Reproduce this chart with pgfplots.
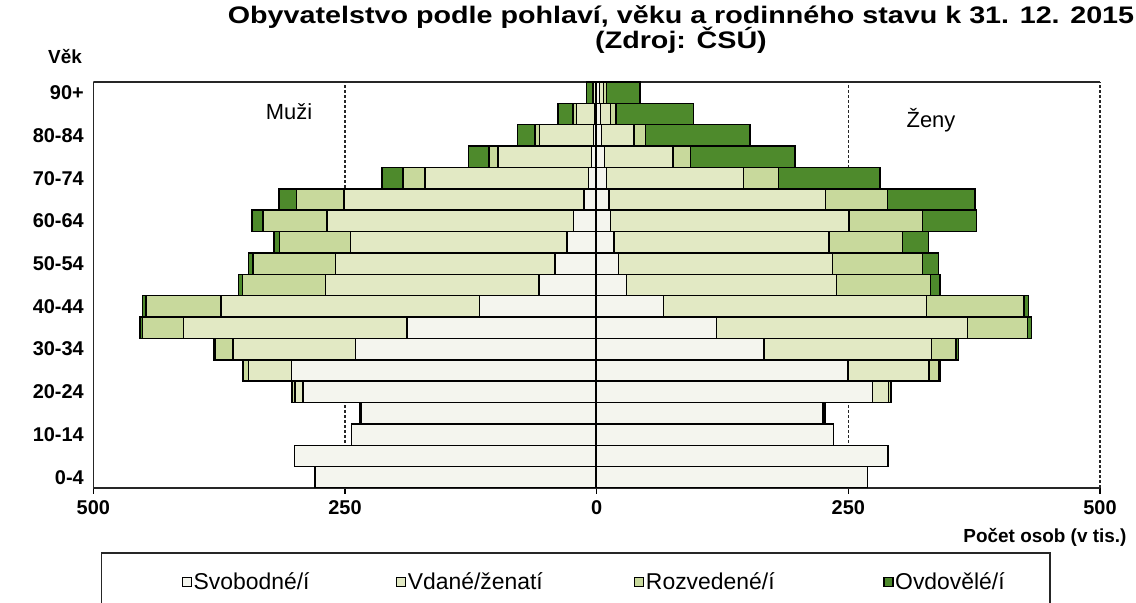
\documentclass[border=0pt]{standalone}
\usepackage{pgfplots}
\pgfplotsset{compat=1.18}
\usepackage{pgfplotstable}
\usepackage{fontspec}
\setmainfont{Liberation Sans}
\newfontfamily\titlefont{Liberation Sans}[FakeStretch=1.2]
\definecolor{csvob}{HTML}{F4F5EE}
\definecolor{cvdan}{HTML}{E2E9C4}
\definecolor{crozv}{HTML}{C8D99C}
\definecolor{covd}{HTML}{4E8A2C}

% y: 0 = 0-4, ..., 18 = 90+
\pgfplotstableread{
y svob vdani rozv ovd
0 -279.8 0 0 0
1 -300.3 0 0 0
2 -243.4 0 0 0
3 -234.3 -1.5 0 0
4 -291.5 -8 -3 -0.5
5 -303.3 -42.7 -5.5 -0.5
6 -239.3 -121.7 -18 -1
7 -188.5 -221.8 -41 -2.4
8 -116.3 -257 -74.3 -3.7
9 -57.5 -211.7 -82.7 -3.7
10 -41.3 -218.1 -82.2 -4
11 -29.5 -214.8 -70.5 -5.7
12 -22.8 -245 -63.8 -10.7
13 -12.8 -238.3 -47 -17.4
14 -8 -162.4 -21.8 -20.8
15 -5 -93 -8.7 -20.8
16 -3 -54 -4.4 -17.4
17 -2 -18 -3.4 -15.1
18 -0.5 -3 -0.5 -6
}\muzi

\pgfplotstableread{
y svob vdani rozv ovd
0 268.9 0 0 0
1 289.5 0 0 0
2 235.2 0 0 0
3 225 1.8 0 0
4 273.8 16 2.7 0.5
5 249.7 80.5 9.8 1
6 166.2 166.6 24.2 2.3
7 119.2 249 59.6 4.3
8 66.2 261.6 96.7 4.3
9 29.8 208.6 93.4 9.3
10 21.5 212.6 89.4 15.9
11 17.2 213.6 72.8 25.8
12 13.9 236.8 72.8 54
13 12.3 215.2 61.3 87.1
14 9.9 135.8 34.8 101
15 8 68 17.2 103.6
16 5 32.1 11.6 103.6
17 4 10 5 77
18 3 4 3 33
}\zeny

\begin{document}
\begin{tikzpicture}[x=1bp,y=1bp]
\pgfplotsset{
  pyr/.style={
    scale only axis, width=1006.7bp, height=406bp,
    at={(93.3bp,115bp)}, anchor=south west,
    xmin=-500, xmax=500, ymin=-0.5, ymax=18.5,
    xbar stacked, bar width=21.37bp,
    every axis plot/.append style={draw=black, line width=1.5bp},
  }
}
\begin{axis}[pyr,
  axis x line*=bottom, axis y line*=left,
  axis line style={line width=1.3bp, black!85, -},
  xtick={-500,-250,0,250,500}, xticklabels={500,250,0,250,500},
  xmajorgrids, major grid style={dash pattern=on 3bp off 2bp, line width=1.5bp, black!85},
  tick align=outside, major tick length=6bp,
  xtick style={line width=1.3bp, black},
  xticklabel style={yshift=-3bp},
  ytick={0,2,...,18},
  yticklabels={0-4,10-14,20-24,30-34,40-44,50-54,60-64,70-74,80-84,90+},
  ytick style={draw=none},
  tick label style={font=\bfseries\fontsize{20}{24}\selectfont},
  legend columns=4,
  legend style={draw=none, fill=none, inner sep=0pt, at={(0.0878,-0.2315)}, anchor=west,
    font=\fontsize{23}{26}\selectfont,
    nodes={inner xsep=1.5bp, inner ysep=1bp},
    /tikz/every even column/.append style={column sep=0bp}},
  legend image code/.code={\draw[#1,line width=1.2bp] (0bp,-4.5bp) rectangle (9bp,4.5bp);},
]
\addplot[fill=csvob] table[x=svob,y=y]{\muzi};
\addplot[fill=cvdan] table[x=vdani,y=y]{\muzi};
\addplot[fill=crozv] table[x=rozv,y=y]{\muzi};
\addplot[fill=covd] table[x=ovd,y=y]{\muzi};
\legend{\makebox[201bp][l]{Svobodné/í},\makebox[225bp][l]{Vdané/ženatí},\makebox[236bp][l]{Rozvedené/í},Ovdovělé/í}
\draw[line width=1.3bp, black!85] (rel axis cs:0,1) -- (rel axis cs:1,1);
\end{axis}
\begin{axis}[pyr, hide axis]
\addplot[fill=csvob] table[x=svob,y=y]{\zeny};
\addplot[fill=cvdan] table[x=vdani,y=y]{\zeny};
\addplot[fill=crozv] table[x=rozv,y=y]{\zeny};
\addplot[fill=covd] table[x=ovd,y=y]{\zeny};
\draw[line width=3.5bp, black] (axis cs:0,-0.5) -- (axis cs:0,18.5);
\end{axis}
\node[font=\fontsize{22}{26}\selectfont] at (289,491) {Muži};
\node[font=\fontsize{22}{26}\selectfont] at (931,483) {Ženy};
\node[font=\bfseries\fontsize{19}{22}\selectfont] at (65,546) {Věk};
\node[font=\titlefont\bfseries\fontsize{24}{26}\selectfont] at (681,586)
  {Obyvatelstvo podle pohlaví, věku a rodinného stavu k 31. 12. 2015};
\node[font=\titlefont\bfseries\fontsize{24}{26}\selectfont] at (681,563) {(Zdroj: ČSÚ)};
\node[font=\bfseries\fontsize{19}{22}\selectfont, anchor=east] at (1130,66) {Počet osob (v tis.)};
\draw[line width=1.5bp, black!85] (101.7,-20) -- (101.7,50) -- (1050,50) -- (1050,-20);
\pgfresetboundingbox
\useasboundingbox (0,0) rectangle (1136,603);
\end{tikzpicture}
\end{document}
